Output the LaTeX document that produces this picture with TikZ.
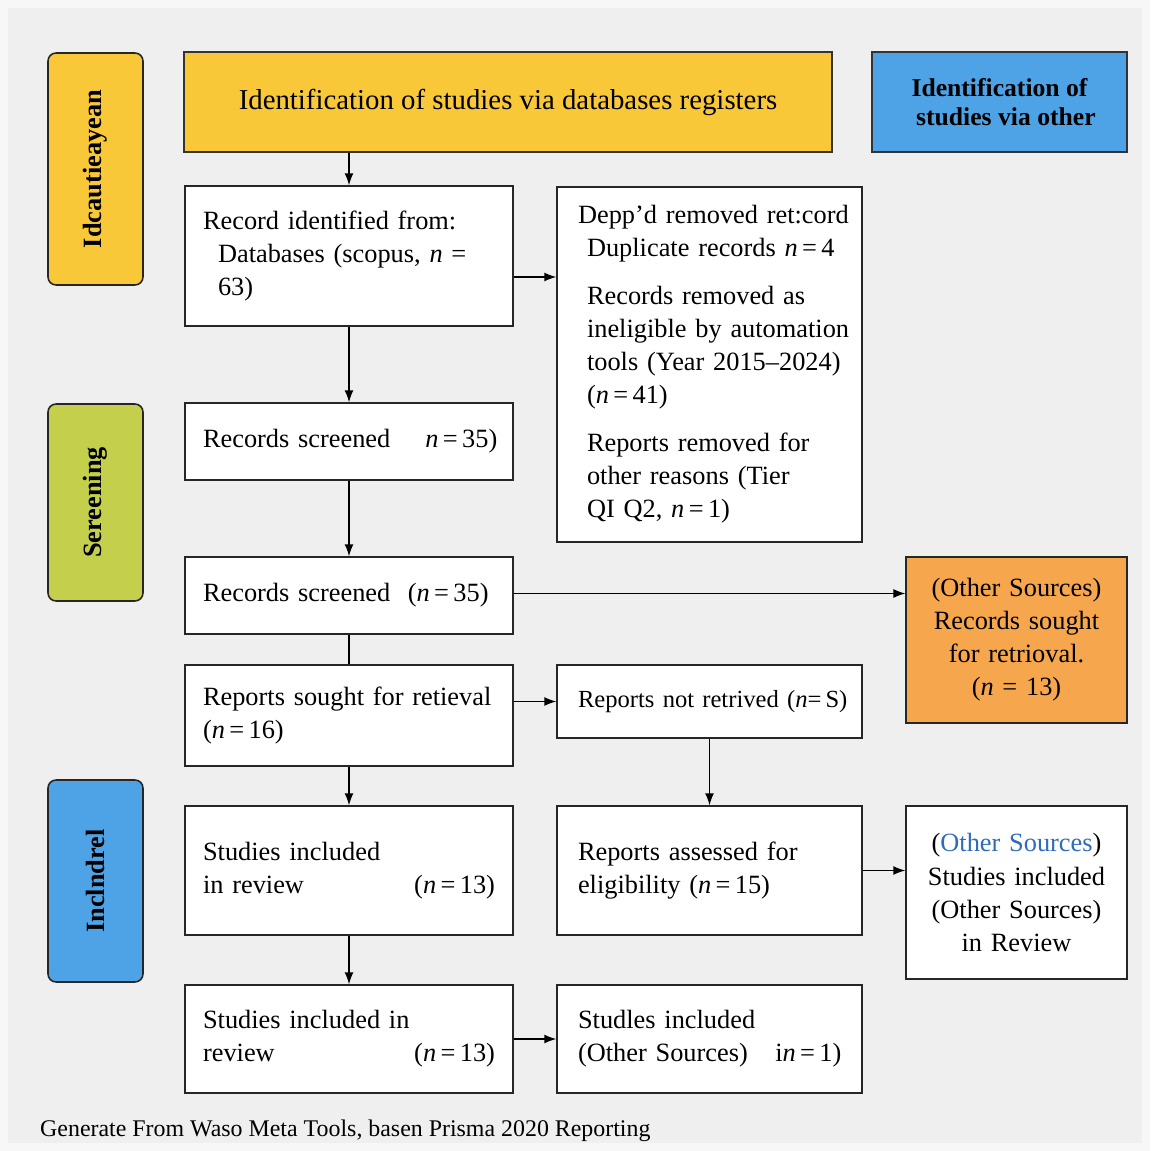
\documentclass[tikz,border=0pt]{standalone}
\usepackage{tikz}
\usepackage{fontspec}
\setmainfont{Liberation Serif}
\usetikzlibrary{arrows.meta}

\definecolor{bgrey}{HTML}{EFEFEF}
\definecolor{idyellow}{HTML}{F8C838}
\definecolor{scrgreen}{HTML}{C4CF4B}
\definecolor{incblue}{HTML}{4DA3E5}
\definecolor{othorange}{HTML}{F6A64C}
\definecolor{linkblue}{HTML}{2F6DB8}

\newcommand{\nn}[1]{\textit{n}\,=\,#1}

\begin{document}
\begin{tikzpicture}[x=0.02cm,y=-0.02cm,>={Latex[length=2.4mm,width=1.8mm]},
  every node/.style={font=\fontsize{15}{18.8}\selectfont}]

\tikzstyle{box}=[draw=black!85,line width=0.8pt,fill=white,rectangle,inner ysep=0pt];
\tikzstyle{lbox}=[box,align=left,inner xsep=0.36cm,text width=5.84cm];
\tikzstyle{mbox}=[box,align=left,inner xsep=0.42cm,text width=5.26cm];
\tikzstyle{rbox}=[box,align=center,inner xsep=0.1cm,text width=4.22cm];
\tikzstyle{phase}=[draw=black!85,line width=0.9pt,rounded corners=0.16cm,minimum width=1.9cm,
  font=\fontsize{15}{17}\selectfont\bfseries,rotate=90];
\tikzstyle{head}=[draw=black!80,line width=0.8pt,rectangle,minimum height=2cm];

% background
\useasboundingbox (0,0) rectangle (1150,1151);
\fill[white!97!black] (0,0) rectangle (1150,1151);
\fill[bgrey] (8,8) rectangle (1142,1143);

% phases
\node[phase,fill=idyellow,minimum width=4.64cm,minimum height=1.9cm] (idlab) at (95.5,169) {Idcautieayean};
\node[phase,fill=scrgreen,minimum width=3.94cm,minimum height=1.9cm] (scrlab) at (95.5,502.5) {Sereening};
\node[phase,fill=incblue,minimum width=4.04cm,minimum height=1.9cm] (inclab) at (95.5,881) {Inclndrel};

% headers
\node[head,fill=idyellow,minimum width=12.96cm,font=\fontsize{16.4}{20}\selectfont] (dbhead) at (508,102) {Identification of studies via databases registers};
\node[head,fill=incblue,minimum width=5.1cm,align=center,font=\fontsize{14.6}{16.5}\selectfont\bfseries] (othhead) at (999.5,102) {Identification of\\ \ \ studies via other};

% left column
\node[lbox,minimum height=2.8cm] (ident) at (349,256) {Record identified from:\\\hspace*{0.3cm}\mbox{Databases (scopus, \textit{n} =}\\\hspace*{0.3cm}63)};
\node[lbox,minimum height=1.54cm] (screen1) at (349,441.5) {\mbox{Records screened\hspace{0.7cm}\nn{35})}};
\node[lbox,minimum height=1.54cm] (screen2) at (349,595.5) {\mbox{Records screened\hspace{0.35cm}(\nn{35})}};
\node[lbox,minimum height=2.02cm] (sought) at (349,715.5) {\mbox{Reports sought for retieval}\\(\nn{16})};
\node[lbox,minimum height=2.58cm] (incl) at (349,870.5) {Studies included\\\makebox[5.84cm][l]{in review\hfill(\nn{13})}\\[0.5cm]};
\node[lbox,minimum height=2.16cm] (incl2) at (349,1039) {Studies included in\\\makebox[5.84cm][l]{review\hfill(\nn{13})}};

% middle column
\node[mbox,minimum height=7.1cm] (removed) at (709.5,364.5) {\mbox{Depp'd removed ret:cord}\\
  \hspace*{0.18cm}\mbox{Duplicate records \nn{4}}\\[0.3cm]
  \hspace*{0.18cm}\mbox{Records removed as}\\
  \hspace*{0.18cm}\mbox{ineligible by automation}\\
  \hspace*{0.18cm}\mbox{tools (Year 2015--2024)}\\
  \hspace*{0.18cm}(\nn{41})\\[0.3cm]
  \hspace*{0.18cm}\mbox{Reports removed for}\\
  \hspace*{0.18cm}\mbox{other reasons (Tier}\\
  \hspace*{0.18cm}\mbox{QI Q2, \nn{1})}};
\node[mbox,minimum height=1.46cm,font=\fontsize{14}{18.8}\selectfont] (notret) at (709.5,701.5) {\mbox{Reports not retrived (\textit{n}=\,S)}};
\node[mbox,minimum height=2.58cm] (assess) at (709.5,870.5) {Reports assessed for\\eligibility (\nn{15})\\[0.4cm]};
\node[mbox,minimum height=2.16cm] (othincl2) at (709.5,1039) {Studles included\\\makebox[5.26cm][l]{(Other Sources)\hspace{0.55cm}i\nn{1})\hfill}};

% right column
\node[rbox,fill=othorange,minimum height=3.32cm] (othrec) at (1016.5,640) {(Other Sources)\\Records sought\\for retrioval.\\(\textit{n} = 13)};
\node[rbox,minimum height=3.46cm] (othincl) at (1016.5,892.5) {(\textcolor{linkblue}{Other Sources})\\Studies included\\(Other Sources)\\in Review};

% connectors
\draw[->,line width=0.8pt] (ident.north |- dbhead.south) -- (ident.north);
\draw[->,line width=0.8pt] ([yshift=-0.42cm]ident.east) -- ([yshift=-0.42cm]ident.east -| removed.west);
\draw[->,line width=0.8pt] (ident.south) -- (screen1.north);
\draw[->,line width=0.8pt] (screen1.south) -- (screen2.north);
\draw[->,line width=0.6pt] ([yshift=0.04cm]screen2.east) -- ([yshift=0.04cm]screen2.east -| othrec.west);
\draw[line width=0.8pt] (screen2.south) -- (sought.north);
\draw[->,line width=0.8pt] (notret.west -| sought.east) -- (notret.west);
\draw[->,line width=0.8pt] (sought.south) -- (incl.north);
\draw[->,line width=0.8pt] (notret.south) -- (assess.north);
\draw[->,line width=0.8pt] (assess.east) -- (assess.east -| othincl.west);
\draw[->,line width=0.8pt] (incl.south) -- (incl2.north);
\draw[->,line width=0.8pt] (incl2.east) -- (othincl2.west);

% footer
\node[anchor=west,font=\fontsize{13.6}{16}\selectfont] (foot) at (34,1131) {Generate From Waso Meta Tools, basen Prisma 2020 Reporting};

\end{tikzpicture}
\end{document}
